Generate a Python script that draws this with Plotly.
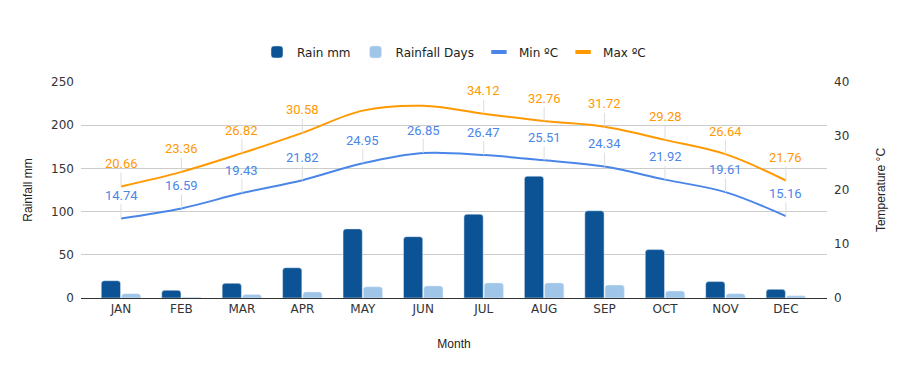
import plotly.graph_objects as go

months = ["JAN", "FEB", "MAR", "APR", "MAY", "JUN", "JUL", "AUG", "SEP", "OCT", "NOV", "DEC"]
rain_mm = [20, 9, 17, 35, 80, 71, 97, 141, 101, 56, 19, 10]
rain_days = [5, 1, 4, 7, 13, 14, 17.5, 17.5, 15, 8, 5, 2.5]
min_temp = [14.74, 16.59, 19.43, 21.82, 24.95, 26.85, 26.47, 25.51, 24.34, 21.92, 19.61, 15.16]
max_temp = [20.66, 23.36, 26.82, 30.58, 34.7, 35.6, 34.12, 32.76, 31.72, 29.28, 26.64, 21.76]
max_label_shown = [True, True, True, True, False, False, True, True, True, True, True, True]

C_RAIN = "#0b5394"
C_DAYS = "#9fc5e8"
C_MIN = "#4a86e8"
C_MAX = "#ff9900"

fig = go.Figure()
fig.add_trace(go.Bar(x=months, y=rain_mm, name="Rain mm", marker=dict(color=C_RAIN, cornerradius=3)))
fig.add_trace(go.Bar(x=months, y=rain_days, name="Rainfall Days", marker=dict(color=C_DAYS, cornerradius=3)))
fig.add_trace(go.Scatter(x=months, y=min_temp, name="Min ºC", yaxis="y2", mode="lines", showlegend=False,
                         line=dict(color=C_MIN, width=2, shape="spline", smoothing=1)))
fig.add_trace(go.Scatter(x=months, y=max_temp, name="Max ºC", yaxis="y2", mode="lines", showlegend=False,
                         line=dict(color=C_MAX, width=2, shape="spline", smoothing=1)))
# legend-only entries with short line glyphs
for name, col in [("Min ºC", C_MIN), ("Max ºC", C_MAX)]:
    fig.add_trace(go.Scatter(x=[None], y=[None], name=name, yaxis="y2", mode="markers",
                             marker=dict(symbol="line-ew", size=11, line=dict(color=col, width=4))))

annotations = []
for m, v in zip(months, min_temp):
    annotations.append(dict(x=m, y=v, xref="x", yref="y2", text=f"{v:.2f}", showarrow=True,
                            ax=0, ay=-23, arrowhead=0, arrowwidth=1, arrowcolor="#dddddd",
                            font=dict(family="Roboto", size=13, color=C_MIN)))
for m, v, s in zip(months, max_temp, max_label_shown):
    if not s:
        continue
    annotations.append(dict(x=m, y=v, xref="x", yref="y2", text=f"{v:.2f}", showarrow=True,
                            ax=0, ay=-23, arrowhead=0, arrowwidth=1, arrowcolor="#dddddd",
                            font=dict(family="Roboto", size=13, color=C_MAX)))

fig.update_layout(
    width=908, height=371,
    margin=dict(l=73, r=89, t=74, b=81, autoexpand=False),
    paper_bgcolor="white", plot_bgcolor="white",
    font=dict(family="DejaVu Sans", size=12, color="#222222"),
    barmode="group", bargap=0.33, bargroupgap=0.05,
    showlegend=True,
    legend=dict(orientation="h", x=0.5, xanchor="center", y=1.139, yanchor="middle",
                font=dict(family="DejaVu Sans", size=12, color="#222222"),
                itemwidth=30, traceorder="normal"),
    xaxis=dict(title=dict(text="Month", font=dict(family="Liberation Sans", size=12, color="#222222"), standoff=24),
               tickfont=dict(family="DejaVu Sans", size=12, color="#333333"), automargin=False,
               showgrid=False, showline=True, linecolor="#333333", linewidth=1,
               range=[-0.662, 11.68]),
    yaxis=dict(title=dict(text="Rainfall mm", font=dict(family="Liberation Sans", size=12, color="#222222"), standoff=15),
               range=[0, 250], dtick=50, showgrid=True, gridcolor="#cccccc", automargin=False,
               zeroline=True, zerolinecolor="#333333", zerolinewidth=1,
               ticklabelstandoff=6,
               tickfont=dict(family="DejaVu Sans", size=12, color="#333333")),
    yaxis2=dict(title=dict(text="Temperature °C", font=dict(family="Liberation Sans", size=12, color="#222222"), standoff=28),
                overlaying="y", side="right", range=[0, 40], dtick=10, showgrid=False, zeroline=False,
                ticklabelstandoff=6, automargin=False,
                tickfont=dict(family="DejaVu Sans", size=12, color="#333333")),
    annotations=annotations,
)

fig.write_html("out.html")
